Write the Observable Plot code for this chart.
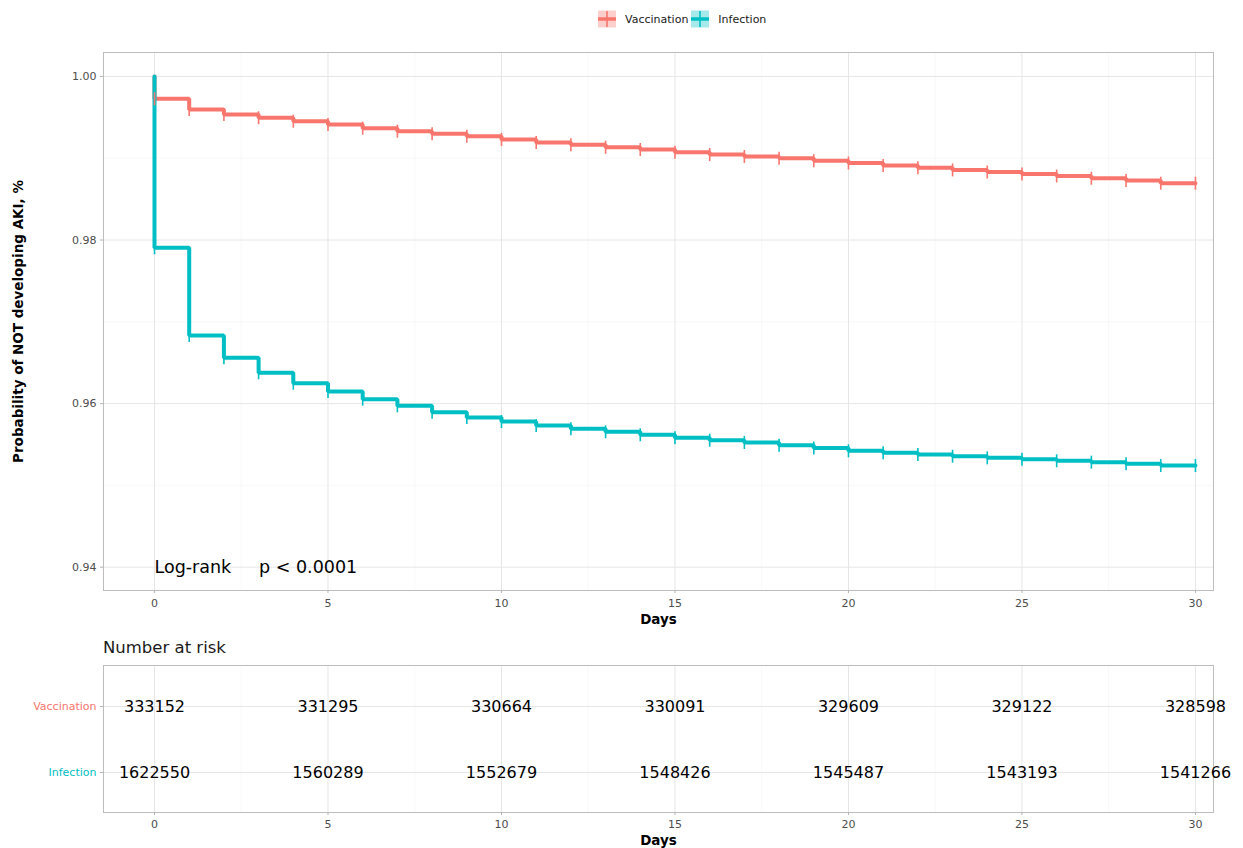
<!DOCTYPE html>
<html>
<head>
<meta charset="utf-8">
<script src="https://cdn.jsdelivr.net/npm/d3@7"></script>
<script src="https://cdn.jsdelivr.net/npm/@observablehq/plot@0.6"></script>
<style>
  html, body { margin: 0; padding: 0; background: #ffffff; }
  #root { position: relative; width: 1243px; height: 848px; font-family: "DejaVu Sans", sans-serif; }
  #legend { position: absolute; left: 597px; top: 9px; display: flex; align-items: center; font-size: 11px; color: #1a1a1a; }
  #legend .item { display: flex; align-items: center; }
  #legend svg { display: block; }
  #risktitle { position: absolute; left: 103px; top: 637px; font-size: 16.5px; color: #1a1a1a; line-height: 22px; }
  #topchart { position: absolute; left: 0; top: 35px; }
  #riskchart { position: absolute; left: 0; top: 655px; }
</style>
</head>
<body>
<div id="root">
  <div id="legend"></div>
  <div id="topchart"></div>
  <div id="risktitle"></div>
  <div id="riskchart"></div>
</div>
<script>
// ---------------- data ----------------
const groups = ["Vaccination", "Infection"];
const groupColors = ["#F8766D", "#00BFC4"];

const days = [0,1,2,3,4,5,6,7,8,9,10,11,12,13,14,15,16,17,18,19,20,21,22,23,24,25,26,27,28,29,30];

// survival level after the step at each day (day 30 = end of follow-up)
const vaccSurv = [0.99727,0.99596,0.99535,0.99495,0.99453,0.99413,0.99368,0.99331,0.99299,0.99270,
                  0.99230,0.99193,0.99165,0.99135,0.99107,0.99074,0.99046,0.99022,0.99001,0.98969,
                  0.98942,0.98912,0.98884,0.98857,0.98832,0.98808,0.98783,0.98756,0.98728,0.98695,
                  0.98695];
const infSurv  = [0.97905,0.96833,0.96560,0.96377,0.96250,0.96148,0.96054,0.95973,0.95894,0.95830,
                  0.95781,0.95732,0.95692,0.95655,0.95619,0.95582,0.95553,0.95525,0.95492,0.95457,
                  0.95423,0.95399,0.95378,0.95357,0.95337,0.95320,0.95301,0.95284,0.95264,0.95243,
                  0.95243];
const startSurv = 1.0;

const riskDays = [0, 5, 10, 15, 20, 25, 30];
const riskVacc = [333152, 331295, 330664, 330091, 329609, 329122, 328598];
const riskInf  = [1622550, 1560289, 1552679, 1548426, 1545487, 1543193, 1541266];

const yTicks = [0.94, 0.96, 0.98, 1.00];
const yMinor = [0.95, 0.97, 0.99];
const xTicks = [0, 5, 10, 15, 20, 25, 30];
const xMinor = [2.5, 7.5, 12.5, 17.5, 22.5, 27.5];

const yTitle = "Probability of NOT developing AKI, %";
const xTitle = "Days";
const pLabel = "Log-rank\u00a0\u00a0\u00a0\u00a0\u00a0p < 0.0001";
const riskTitle = "Number at risk";

// ---------------- build tables ----------------
const survSeries = [vaccSurv, infSurv];
const curves = [];
const censors = [];
groups.forEach((g, gi) => {
  const s = survSeries[gi];
  curves.push({group: g, day: days[0], surv: startSurv});
  days.forEach((d, i) => {
    curves.push({group: g, day: d, surv: s[i]});
    censors.push({group: g, day: d, surv: s[i]});
  });
});
const riskRows = [];
riskDays.forEach((d, i) => {
  riskRows.push({group: groups[0], day: d, n: riskVacc[i]});
  riskRows.push({group: groups[1], day: d, n: riskInf[i]});
});

const colorScale = {domain: groups, range: groupColors};
const xDomain = [-1.47, 30.52];

// vertical-bar censor symbol
const vbar = {
  draw(context, size) {
    const r = Math.sqrt(size / Math.PI);
    context.moveTo(0, -r);
    context.lineTo(0, r);
  }
};

const baseStyle = {fontFamily: "DejaVu Sans, sans-serif", fontSize: "11px", color: "#4d4d4d", background: "#ffffff", overflow: "visible"};
const majorGrid = "#e6e6e6";
const minorGrid = "#f3f3f3";
const borderCol = "#bdbdbd";

// ---------------- survival plot ----------------
const survChart = Plot.plot({
  width: 1243,
  height: 600,
  marginLeft: 103,
  marginRight: 30,
  marginTop: 17,
  marginBottom: 45,
  style: baseStyle,
  x: {domain: xDomain, label: null},
  y: {domain: [0.93715, 1.00293], label: null},
  color: colorScale,
  marks: [
    Plot.gridX(xMinor, {stroke: minorGrid, strokeOpacity: 1, strokeWidth: 0.6}),
    Plot.gridY(yMinor, {stroke: minorGrid, strokeOpacity: 1, strokeWidth: 0.6}),
    Plot.gridX(xTicks, {stroke: majorGrid, strokeOpacity: 1, strokeWidth: 1}),
    Plot.gridY(yTicks, {stroke: majorGrid, strokeOpacity: 1, strokeWidth: 1}),
    Plot.frame({stroke: borderCol}),
    Plot.axisX(xTicks, {tickSize: 3, tickPadding: 6, stroke: "#b3b3b3", fill: "#4d4d4d", fontSize: 11, label: null}),
    Plot.axisY(yTicks, {tickSize: 3, tickPadding: 4, stroke: "#b3b3b3", fill: "#4d4d4d", fontSize: 11, label: null, tickFormat: d3.format(".2f")}),
    Plot.line(curves, {x: "day", y: "surv", z: "group", stroke: "group", strokeWidth: 4, curve: "step-after", strokeLinejoin: "miter"}),
    Plot.dot(censors, {x: "day", y: "surv", stroke: "group", symbol: vbar, r: 6.5, strokeWidth: 1.6, fill: "none"}),
    Plot.text([pLabel], {x: 0, y: 0.94, text: d => d, textAnchor: "start", lineAnchor: "middle", fontSize: 17.5, fill: "#000000"}),
    Plot.text([xTitle], {frameAnchor: "bottom", dy: 29, text: d => d, textAnchor: "middle", lineAnchor: "middle", fontSize: 13.5, fontWeight: "bold", fill: "#000000"}),
    Plot.text([yTitle], {frameAnchor: "left", dx: -85, rotate: -90, text: d => d, textAnchor: "middle", lineAnchor: "middle", fontSize: 13.5, fontWeight: "bold", fill: "#000000"})
  ]
});
document.getElementById("topchart").appendChild(survChart);

// ---------------- risk table ----------------
document.getElementById("risktitle").textContent = riskTitle;

const riskChart = Plot.plot({
  width: 1243,
  height: 193,
  marginLeft: 103,
  marginRight: 30,
  marginTop: 10,
  marginBottom: 36,
  style: baseStyle,
  x: {domain: xDomain, label: null},
  y: {type: "point", domain: groups, padding: 0.6, label: null},
  marks: [
    Plot.gridX(xMinor, {stroke: minorGrid, strokeOpacity: 1, strokeWidth: 0.6}),
    Plot.gridX(xTicks, {stroke: majorGrid, strokeOpacity: 1, strokeWidth: 1}),
    Plot.gridY(groups, {stroke: majorGrid, strokeOpacity: 1, strokeWidth: 1}),
    Plot.frame({stroke: borderCol}),
    Plot.axisX(xTicks, {tickSize: 3, tickPadding: 5, stroke: "#b3b3b3", fill: "#4d4d4d", fontSize: 11, label: null}),
    ...groups.map((g, i) => Plot.axisY([g], {tickSize: 3, tickPadding: 4, stroke: "#b3b3b3", fill: groupColors[i], fontSize: 11, label: null})),
    Plot.text(riskRows, {x: "day", y: "group", text: d => String(d.n), fontSize: 16, fill: "#000000"}),
    Plot.text([xTitle], {frameAnchor: "bottom", dy: 28, text: d => d, textAnchor: "middle", lineAnchor: "middle", fontSize: 13.5, fontWeight: "bold", fill: "#000000"})
  ]
});
document.getElementById("riskchart").appendChild(riskChart);

// ---------------- legend ----------------
const legendEl = document.getElementById("legend");
groups.forEach((g, i) => {
  const item = document.createElement("div");
  item.className = "item";
  const ns = "http://www.w3.org/2000/svg";
  const svg = document.createElementNS(ns, "svg");
  svg.setAttribute("width", 20);
  svg.setAttribute("height", 20);
  const rect = document.createElementNS(ns, "rect");
  rect.setAttribute("x", 1); rect.setAttribute("y", 1.5);
  rect.setAttribute("width", 18); rect.setAttribute("height", 17);
  rect.setAttribute("fill", groupColors[i]); rect.setAttribute("fill-opacity", 0.35);
  svg.appendChild(rect);
  const h = document.createElementNS(ns, "line");
  h.setAttribute("x1", 1); h.setAttribute("x2", 19); h.setAttribute("y1", 10); h.setAttribute("y2", 10);
  h.setAttribute("stroke", groupColors[i]); h.setAttribute("stroke-width", 3.5);
  svg.appendChild(h);
  const v = document.createElementNS(ns, "line");
  v.setAttribute("x1", 10); v.setAttribute("x2", 10); v.setAttribute("y1", 2); v.setAttribute("y2", 18);
  v.setAttribute("stroke", groupColors[i]); v.setAttribute("stroke-width", 1.6);
  svg.appendChild(v);
  item.appendChild(svg);
  const label = document.createElement("span");
  label.textContent = g;
  label.style.marginLeft = "8px";
  label.style.marginRight = i === 0 ? "2px" : "0px";
  item.appendChild(label);
  legendEl.appendChild(item);
});
</script>
</body>
</html>
